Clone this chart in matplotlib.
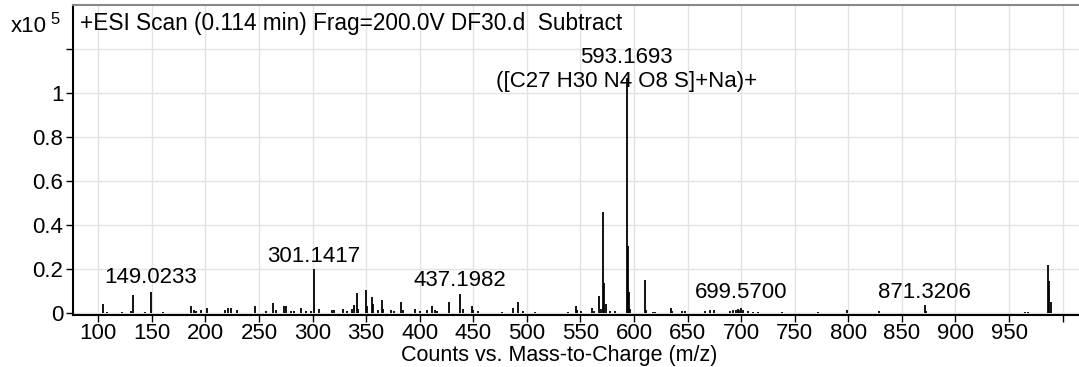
import matplotlib
matplotlib.use("Agg")
import matplotlib.pyplot as plt

plt.rcParams['font.family'] = ['Liberation Sans', 'DejaVu Sans']

# Peak list: m/z and intensity (x10^5 counts)
mz = [104.4, 108.4, 122.4, 130.2, 132.4, 143.3, 149.0233, 160.4, 186.2, 189.0,
      191.5, 196.0, 201.5, 218.0, 221.0, 224.0, 229.5, 246.0, 256.8, 263.0,
      266.0, 273.0, 275.0, 280.0, 283.0, 289.5, 294.0, 298.8, 301.1417, 306.0,
      317.8, 320.0, 328.7, 331.8, 337.0, 339.0, 341.2, 342.7, 349.6, 351.0,
      355.2, 356.7, 361.3, 364.5, 366.0, 372.9, 376.0, 382.5, 384.1, 395.6,
      400.3, 406.5, 411.7, 414.3, 415.8, 427.6, 437.1982, 440.1, 448.5, 450.0,
      454.7, 476.5, 487.3, 491.4, 496.0, 507.6, 538.7, 545.6, 547.1, 550.3,
      561.1, 562.6, 567.6, 569.2, 571.18, 572.2, 574.2, 577.4, 582.0, 593.1693,
      594.17, 595.17, 596.2, 610.2, 611.4, 618.0, 620.0, 634.2, 635.7, 645.0,
      647.5, 666.3, 671.0, 674.7, 689.6, 692.7, 695.2, 696.8, 698.3, 699.57,
      702.0, 706.7, 711.3, 716.0, 737.9, 772.0, 798.6, 828.7, 871.3206, 872.7,
      965.0, 968.0, 986.3, 987.6, 988.9]
intensity = [0.041, 0.006, 0.005, 0.010, 0.080, 0.006, 0.097, 0.004, 0.030, 0.012,
             0.010, 0.015, 0.025, 0.015, 0.025, 0.025, 0.012, 0.030, 0.010, 0.045,
             0.015, 0.030, 0.030, 0.010, 0.010, 0.025, 0.010, 0.010, 0.200, 0.020,
             0.015, 0.015, 0.020, 0.010, 0.020, 0.035, 0.092, 0.020, 0.104, 0.030,
             0.074, 0.040, 0.015, 0.059, 0.020, 0.012, 0.010, 0.048, 0.015, 0.020,
             0.010, 0.012, 0.030, 0.012, 0.010, 0.050, 0.085, 0.020, 0.030, 0.015,
             0.008, 0.005, 0.025, 0.052, 0.010, 0.005, 0.005, 0.030, 0.015, 0.010,
             0.022, 0.008, 0.078, 0.020, 0.458, 0.135, 0.040, 0.010, 0.008, 1.070,
             0.306, 0.097, 0.020, 0.150, 0.015, 0.005, 0.005, 0.025, 0.010, 0.008,
             0.010, 0.010, 0.012, 0.015, 0.008, 0.012, 0.015, 0.020, 0.015, 0.025,
             0.015, 0.008, 0.005, 0.005, 0.005, 0.004, 0.012, 0.008, 0.035, 0.010,
             0.005, 0.005, 0.218, 0.144, 0.048]

# Annotations: (x, y, text)
label_x = [149.0233, 301.1417, 437.1982, 593.1693, 593.1693, 699.57, 871.3206]
label_y = [0.135, 0.233, 0.124, 1.135, 1.029, 0.070, 0.070]
label_text = ["149.0233", "301.1417", "437.1982", "593.1693",
              "([C27 H30 N4 O8 S]+Na)+", "699.5700", "871.3206"]

xticks = list(range(100, 1001, 50))
xticklabels = [str(v) for v in range(100, 951, 50)] + [""]
yticks = [0, 0.2, 0.4, 0.6, 0.8, 1.0, 1.2]
yticklabels = ["0", "0.2", "0.4", "0.6", "0.8", "1", ""]

fig = plt.figure(figsize=(10.79, 3.67), dpi=100)
ax = fig.add_axes([73/1079, 1 - 315/367, 1 - 73/1079, (315 - 5)/367])

ax.vlines(mz, 0, intensity, color='black', lw=1.3)
ax.set_xlim(76.4, 1015.3)
ax.set_ylim(-0.009, 1.4)

ax.set_xticks(xticks)
ax.set_xticklabels(xticklabels)
ax.set_yticks(yticks)
ax.set_yticklabels(yticklabels)
ax.tick_params(axis='both', labelsize=16, length=5, width=1, direction='out', pad=2)
ax.tick_params(axis='x', pad=0.5)
ax.grid(True, color='#e3e3e3', lw=1)
ax.set_axisbelow(True)

for s in ['left', 'bottom']:
    ax.spines[s].set_linewidth(1.5)
    ax.spines[s].set_color('black')
ax.spines['top'].set_color('#888888')
ax.spines['top'].set_linewidth(1.5)
ax.spines['right'].set_visible(False)

for x, y, t in zip(label_x, label_y, label_text):
    ax.text(x, y, t, ha='center', va='baseline', fontsize=16)

fig.text(80/1079, 1 - 30/367, "+ESI Scan (0.114 min) Frag=200.0V DF30.d  Subtract",
         fontsize=16.3, ha='left', va='baseline')
fig.text(11/1079, 1 - 32/367, "x10", fontsize=16, ha='left', va='baseline')
fig.text(50/1079, 1 - 24/367, "5", fontsize=12, ha='left', va='baseline')
fig.text(559/1079, 1 - 361/367, "Counts vs. Mass-to-Charge (m/z)", fontsize=15.5,
         ha='center', va='baseline')

fig.savefig("out.png", dpi=100)
